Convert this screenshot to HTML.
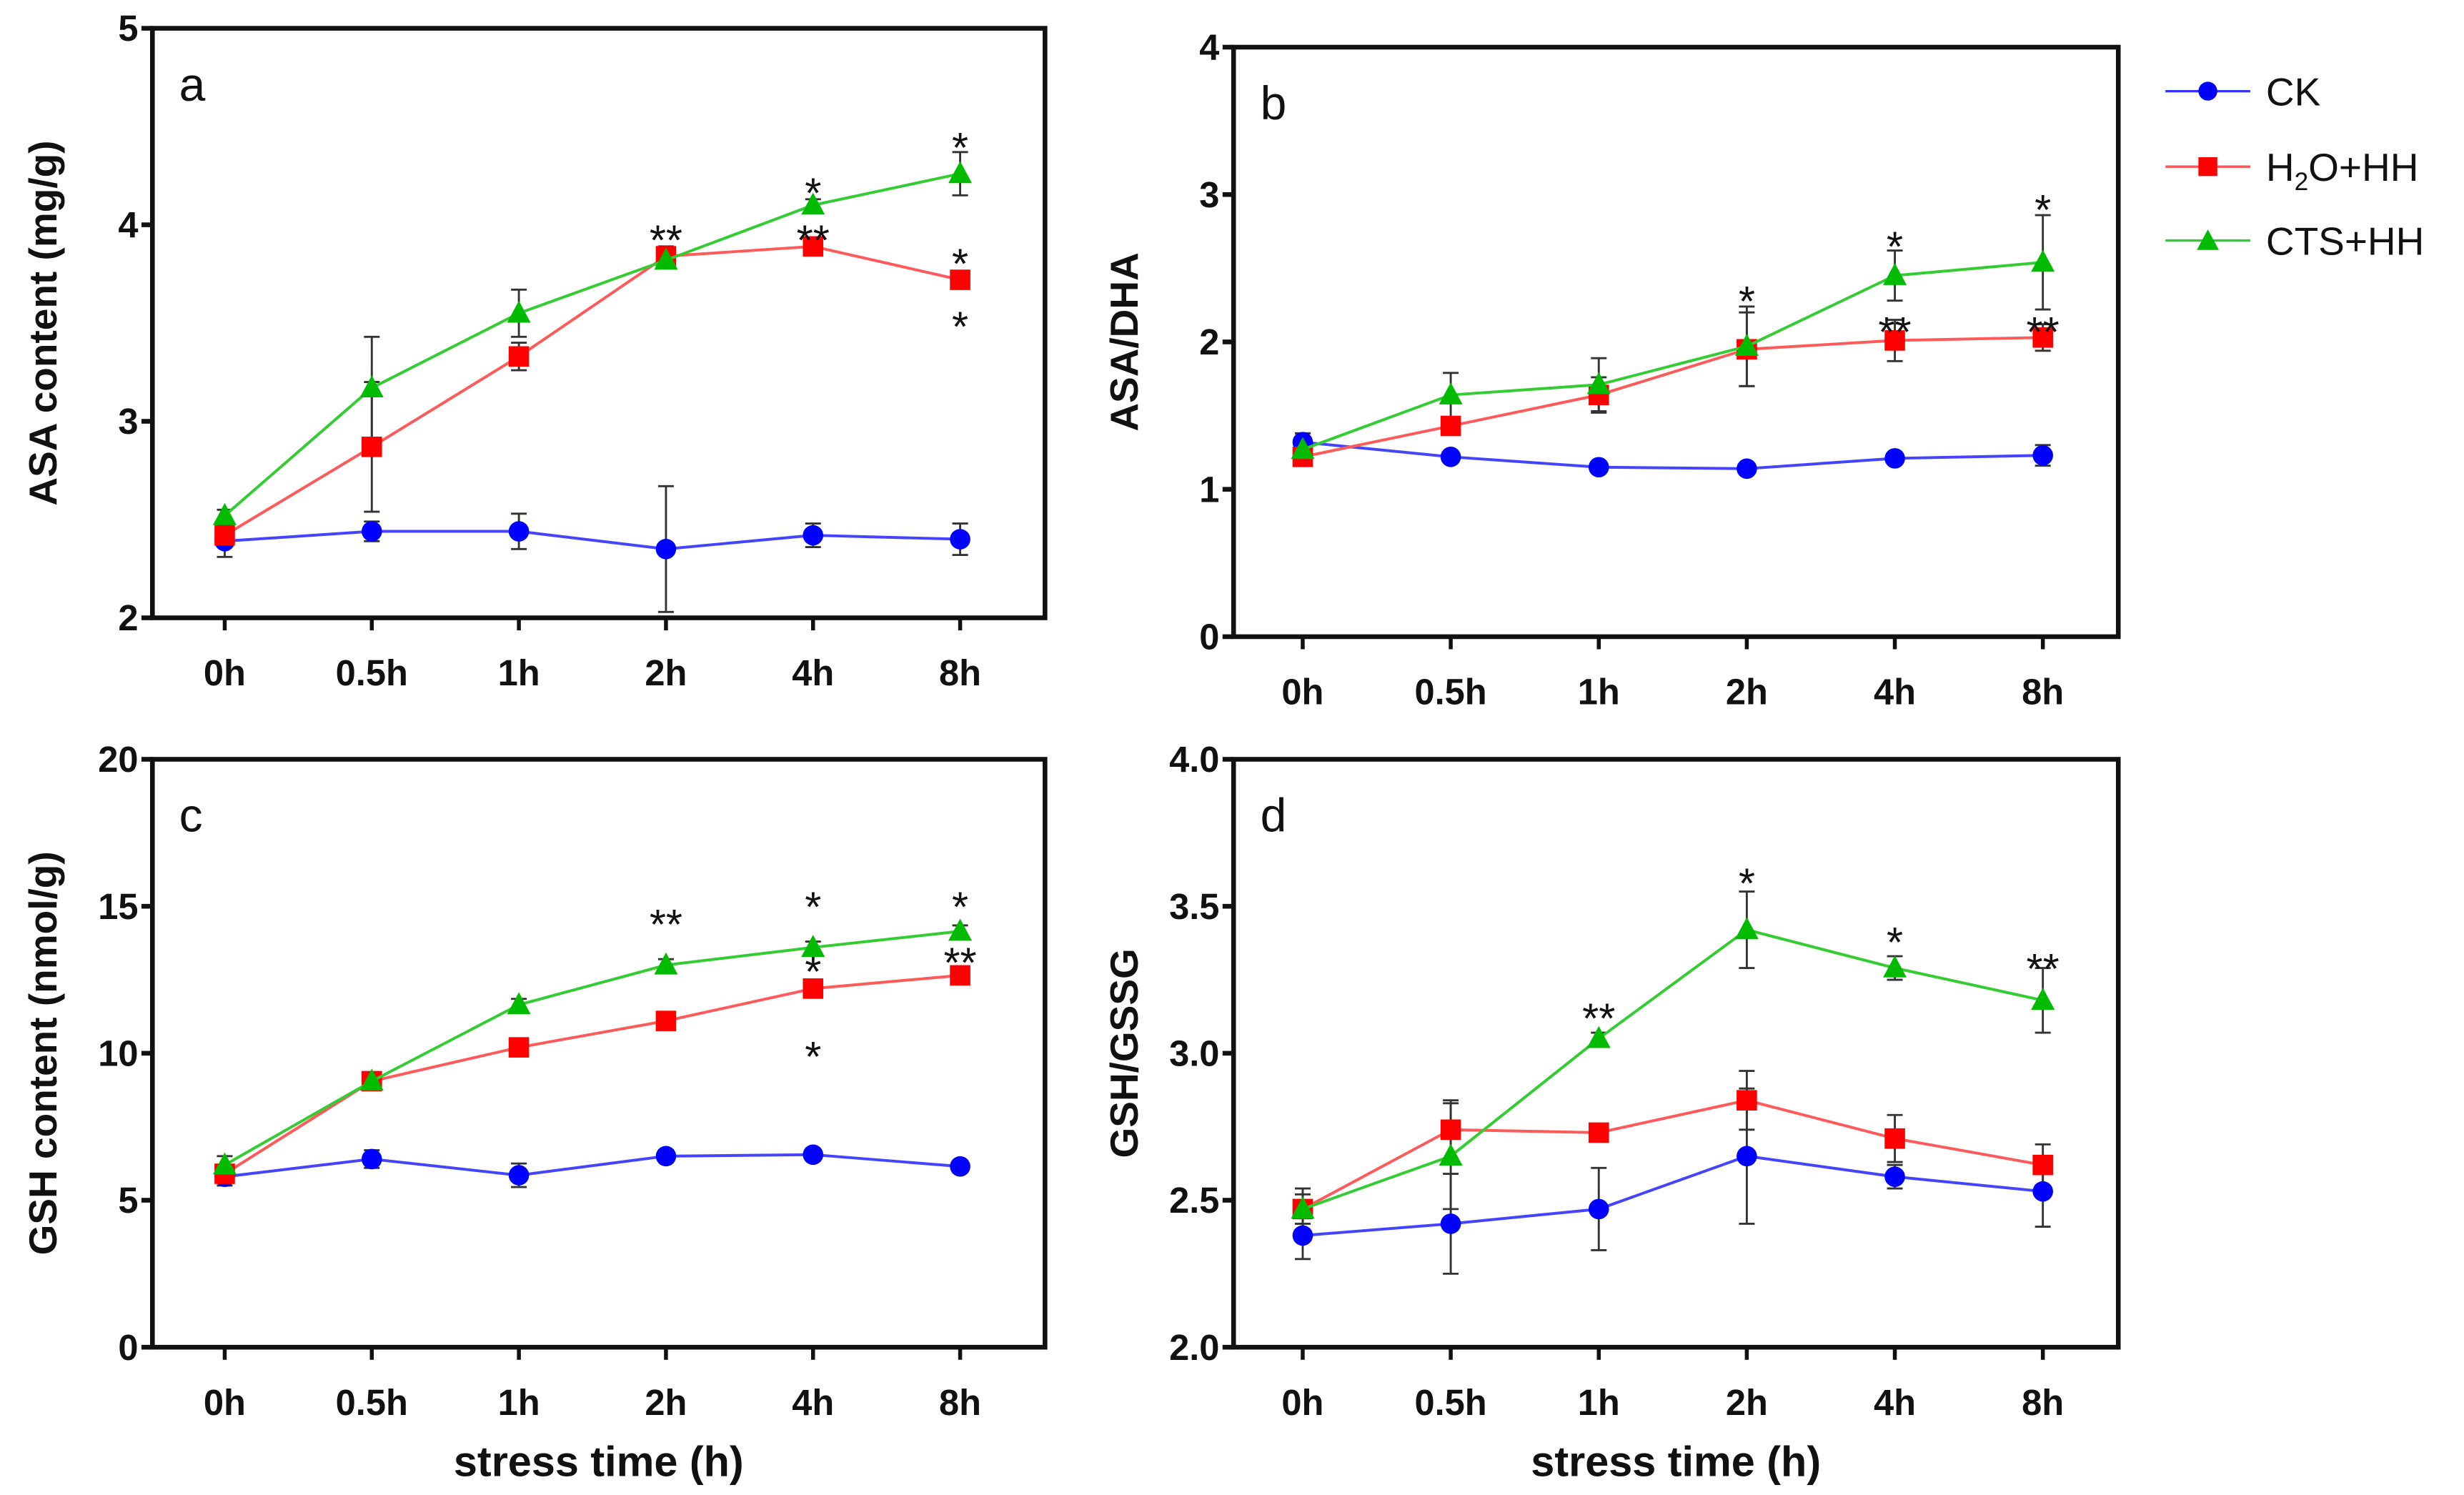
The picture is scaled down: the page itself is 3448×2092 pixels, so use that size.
<!DOCTYPE html>
<html><head><meta charset="utf-8">
<style>
html,body{margin:0;padding:0;background:#fff;}
svg{display:block;}
.tk{font-family:"Liberation Sans Narrow","Liberation Sans",sans-serif;font-weight:bold;font-size:23px;fill:#111;}
.yt{font-family:"Liberation Sans",sans-serif;font-weight:bold;font-size:25px;fill:#111;}
.xt{font-family:"Liberation Sans Narrow","Liberation Sans",sans-serif;font-weight:bold;font-size:27px;fill:#111;}
.pl{font-family:"Liberation Sans",sans-serif;font-size:30px;fill:#111;}
.st{font-family:"Liberation Sans",sans-serif;font-size:27px;fill:#111;}
.lg{font-family:"Liberation Sans",sans-serif;font-size:25px;fill:#111;}
</style></head>
<body>
<svg id="fig" width="3448" height="2092" viewBox="0 0 1568 951" preserveAspectRatio="none" xmlns="http://www.w3.org/2000/svg">
<g>
 <g>
  <line x1="1378" y1="58" x2="1432" y2="58" stroke="#3333ff" stroke-width="1.5"/>
  <circle cx="1405" cy="58" r="6" fill="#0000ff"/>
  <text class="lg" x="1442" y="67">CK</text>
 </g>
 <g>
  <line x1="1378" y1="106" x2="1432" y2="106" stroke="#ff5555" stroke-width="1.5"/>
  <rect x="1399" y="100" width="12" height="12" fill="#ff0000"/>
  <text class="lg" x="1442" y="115">H<tspan font-size="16" dy="6">2</tspan><tspan dy="-6">O+HH</tspan></text>
 </g>
 <g>
  <line x1="1378" y1="153" x2="1432" y2="153" stroke="#33cc33" stroke-width="1.5"/>
  <polygon points="1405,146 1412,159 1398,159" fill="#00bb00"/>
  <text class="lg" x="1442" y="162">CTS+HH</text>
 </g>
</g>
</svg>
<script>
const categories = ["0h","0.5h","1h","2h","4h","8h"];

const aCK = [2.39,2.44,2.44,2.35,2.42,2.40];
const aCKerr = [0.08,0.05,0.09,0.32,0.06,0.08];
const aH2O = [2.42,2.87,3.33,3.84,3.89,3.72];
const aH2Oerr = [0.03,0.33,0.07,0.05,0.02,0.03];
const aCTS = [2.52,3.17,3.55,3.82,4.10,4.26];
const aCTSerr = [0.03,0.26,0.12,0.04,0.03,0.11];
const aTicks = [2,3,4,5];

const bCK = [1.32,1.22,1.15,1.14,1.21,1.23];
const bCKerr = [0.06,0.03,0.02,0.02,0.03,0.07];
const bH2O = [1.22,1.43,1.64,1.95,2.01,2.03];
const bH2Oerr = [0.03,0.05,0.12,0.25,0.14,0.09];
const bCTS = [1.27,1.64,1.71,1.97,2.45,2.54];
const bCTSerr = [0.03,0.15,0.18,0.27,0.17,0.32];
const bTicks = [0,1,2,3,4];

const cCK = [5.8,6.4,5.85,6.5,6.55,6.15];
const cCKerr = [0.3,0.3,0.4,0.2,0.2,0.2];
const cH2O = [5.9,9.05,10.2,11.1,12.2,12.65];
const cH2Oerr = [0.2,0.2,0.2,0.2,0.2,0.2];
const cCTS = [6.2,9.05,11.65,13.0,13.6,14.15];
const cCTSerr = [0.3,0.2,0.2,0.2,0.2,0.2];
const cTicks = [0,5,10,15,20];

const dCK = [2.38,2.42,2.47,2.65,2.58,2.53];
const dCKerr = [0.08,0.17,0.14,0.23,0.04,0.12];
const dH2O = [2.47,2.74,2.73,2.84,2.71,2.62];
const dH2Oerr = [0.07,0.10,0.02,0.10,0.08,0.07];
const dCTS = [2.47,2.65,3.05,3.42,3.29,3.18];
const dCTSerr = [0.05,0.18,0.02,0.13,0.04,0.11];
const dTicks = ["2.0","2.5","3.0","3.5","4.0"];

// significance marks: [category index, value, text]
const aStars = [[3,4.0,"**"],[4,4.24,"*"],[4,4.0,"**"],[5,4.47,"*"],[5,3.88,"*"],[5,3.56,"*"]];
const bStars = [[3,2.38,"*"],[4,2.75,"*"],[4,2.17,"**"],[5,3.0,"*"],[5,2.17,"**"]];
const cStars = [[3,14.9,"**"],[4,15.5,"*"],[4,13.3,"*"],[4,10.4,"*"],[5,15.5,"*"],[5,13.6,"**"]];
const dStars = [[2,3.17,"**"],[3,3.63,"*"],[4,3.43,"*"],[5,3.34,"**"]];

const NS = "http://www.w3.org/2000/svg";
const svg = document.getElementById("fig");
function mk(tag, attrs, parent){
  const e = document.createElementNS(NS, tag);
  for (const k in attrs) e.setAttribute(k, attrs[k]);
  (parent||svg).appendChild(e);
  return e;
}

function panel(cfg){
  const g = mk("g", {});
  
  
  const L=cfg.L,R=cfg.R,T=cfg.T,B=cfg.B;
  const tnum = cfg.ticks.map(Number);
  const ymin = tnum[0], ymax = tnum[tnum.length-1];
  const y = v => B - (v - ymin)/(ymax - ymin)*(B - T);
  const x0 = cfg.x0, dx = cfg.dx;
  const x = i => x0 + i*dx;
  const box = mk("rect",{x:L,y:T,width:R-L,height:B-T,fill:"none",stroke:"#111","stroke-width":3},g);
  
  
  cfg.ticks.forEach(t=>{
    const yy = y(Number(t));
    mk("line",{x1:L-7,y1:yy,x2:L,y2:yy,stroke:"#111","stroke-width":3},g);
    const tx = mk("text",{x:L-9,y:yy+8,"text-anchor":"end",class:"tk"},g);
    tx.textContent = t;
    
    
  });
  categories.forEach((c,i)=>{
    mk("line",{x1:x(i),y1:B,x2:x(i),y2:B+8,stroke:"#111","stroke-width":2.5},g);
    const tx = mk("text",{x:x(i),y:B+43,"text-anchor":"middle",class:"tk"},g);
    tx.textContent = c;
    
    
  });
  const yt = mk("text",{x:0,y:0,"text-anchor":"middle",class:"yt",transform:`translate(${cfg.ytx},${(T+B)/2}) rotate(-90)`},g);
  yt.textContent = cfg.ytitle;
  
  
  if (cfg.xtitle){
    const xt = mk("text",{x:(L+R)/2,y:B+82,"text-anchor":"middle",class:"xt"},g);
    xt.textContent = "stress time (h)";
    
    
  }
  const pl = mk("text",{x:L+17,y:T+46,class:"pl"},g);
  pl.textContent = cfg.id;
  
  

  const series = [
    {name:"ck",v:cfg.ck,e:cfg.ckErr,line:"#4444ff",fill:"#0000ff",shape:"circle"},
    {name:"h2o-hh",v:cfg.h2o,e:cfg.h2oErr,line:"#ff5a5a",fill:"#ff0000",shape:"square"},
    {name:"cts-hh",v:cfg.cts,e:cfg.ctsErr,line:"#33cc33",fill:"#00bb00",shape:"tri"}
  ];
  series.forEach(s=>{
    s.v.forEach((v,i)=>{
      const xx=x(i), y1=y(v+s.e[i]), y2=y(v-s.e[i]);
      const eg = mk("g",{stroke:"#333","stroke-width":1.3},g);
      
      
      mk("line",{x1:xx,y1:y1,x2:xx,y2:y2},eg);
      mk("line",{x1:xx-5,y1:y1,x2:xx+5,y2:y1},eg);
      mk("line",{x1:xx-5,y1:y2,x2:xx+5,y2:y2},eg);
    });
  });
  series.forEach(s=>{
    const pts = s.v.map((v,i)=>x(i)+","+y(v)).join(" ");
    const pl2 = mk("polyline",{points:pts,fill:"none",stroke:s.line,"stroke-width":1.8},g);
    
    
    s.v.forEach((v,i)=>{
      const xx=x(i), yy=y(v);
      let m;
      if (s.shape==="circle") m = mk("circle",{cx:xx,cy:yy,r:6.5,fill:s.fill},g);
      else if (s.shape==="square") m = mk("rect",{x:xx-6.5,y:yy-6.5,width:13,height:13,fill:s.fill},g);
      else m = mk("polygon",{points:`${xx},${yy-8} ${xx+7.5},${yy+6} ${xx-7.5},${yy+6}`,fill:s.fill},g);
      
      
    });
  });
  cfg.stars.forEach(st=>{
    const t = mk("text",{x:x(st[0]),y:y(st[1])+19,"text-anchor":"middle",class:"st"},g);
    t.textContent = st[2];
    
    
  });
}

panel({id:"a",L:97,R:665,T:18,B:393,x0:143,dx:93.6,ticks:aTicks,ytitle:"ASA content  (mg/g)",ytx:36,
  ck:aCK,ckErr:aCKerr,h2o:aH2O,h2oErr:aH2Oerr,cts:aCTS,ctsErr:aCTSerr,stars:aStars});
panel({id:"b",L:785,R:1348,T:30,B:405,x0:829,dx:94.2,ticks:bTicks,ytitle:"ASA/DHA",ytx:724,
  ck:bCK,ckErr:bCKerr,h2o:bH2O,h2oErr:bH2Oerr,cts:bCTS,ctsErr:bCTSerr,stars:bStars});
panel({id:"c",L:97,R:665,T:483,B:857,x0:143,dx:93.6,ticks:cTicks,ytitle:"GSH content (nmol/g)",ytx:36,xtitle:true,
  ck:cCK,ckErr:cCKerr,h2o:cH2O,h2oErr:cH2Oerr,cts:cCTS,ctsErr:cCTSerr,stars:cStars});
panel({id:"d",L:785,R:1348,T:483,B:857,x0:829,dx:94.2,ticks:dTicks,ytitle:"GSH/GSSG",ytx:724,xtitle:true,
  ck:dCK,ckErr:dCKerr,h2o:dH2O,h2oErr:dH2Oerr,cts:dCTS,ctsErr:dCTSerr,stars:dStars});
</script>
</body></html>
